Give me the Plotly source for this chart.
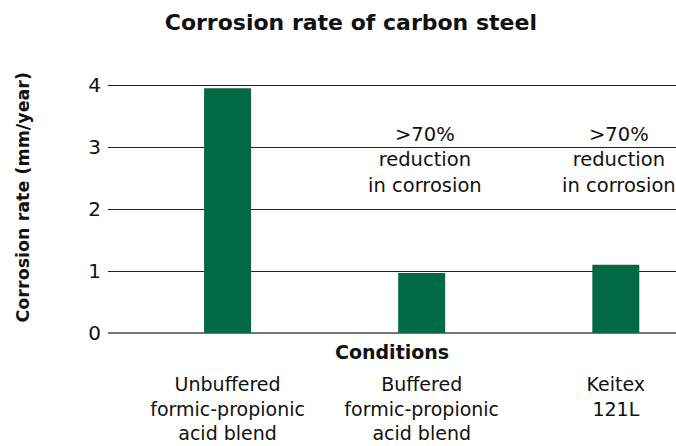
import plotly.graph_objects as go

categories = ["Unbuffered<br>formic-propionic<br>acid blend",
              "Buffered<br>formic-propionic<br>acid blend",
              "Keitex<br>121L"]
corrosion_rate = [3.95, 0.97, 1.1]
note_text = [None, ">70%<br>reduction<br>in corrosion", ">70%<br>reduction<br>in corrosion"]
y_ticks = [0, 1, 2, 3, 4]

FONT = "DejaVu Sans"
fig = go.Figure()
fig.add_trace(go.Bar(
    x=list(range(len(categories))), y=corrosion_rate,
    marker=dict(color="#016A42", line=dict(width=0)),
    width=0.242, hoverinfo="skip"))

for i, t in enumerate(note_text):
    if t:
        fig.add_annotation(x=i, y=2.8, xref="x", yref="y", text=t, showarrow=False,
                           xanchor="center", yanchor="middle", xshift=3,
                           font=dict(family=FONT, size=19.5, color="#111"))

fig.add_annotation(x=0.5, y=0, xref="paper", yref="paper", text="<b>Conditions</b>",
                   showarrow=False, xanchor="center", yanchor="middle", yshift=-19,
                   font=dict(family=FONT, size=19, color="#111"))
fig.add_annotation(x=0, y=0.5, xref="paper", yref="paper", text="<b>Corrosion rate (mm/year)</b>",
                   showarrow=False, textangle=-90, xanchor="center", yanchor="middle",
                   xshift=-86, yshift=11, font=dict(family=FONT, size=17.5, color="#111"))

fig.update_layout(
    width=676, height=446, plot_bgcolor="white", paper_bgcolor="white",
    margin=dict(l=108, r=0, t=84, b=113),
    showlegend=False,
    title=dict(text="<b>Corrosion rate of carbon steel</b>", x=0.519, xanchor="center",
               y=0.95, yanchor="middle", font=dict(family=FONT, size=22, color="#111")),
    xaxis=dict(tickmode="array", tickvals=list(range(len(categories))), ticktext=categories,
               range=[-0.616, 2.31], showgrid=False, zeroline=False, showline=False,
               ticks="", ticklabelstandoff=38,
               tickfont=dict(family=FONT, size=19, color="#111")),
    yaxis=dict(range=[0, 4.02], tickvals=y_ticks, showgrid=True, gridcolor="#222", gridwidth=1,
               zeroline=True, zerolinecolor="#777", zerolinewidth=1.5, showline=False,
               ticks="", ticklabelstandoff=6,
               tickfont=dict(family=FONT, size=20, color="#111")),
)
fig.write_html("out.html", post_script="document.body.style.margin='0';",
               config={"displayModeBar": False})
